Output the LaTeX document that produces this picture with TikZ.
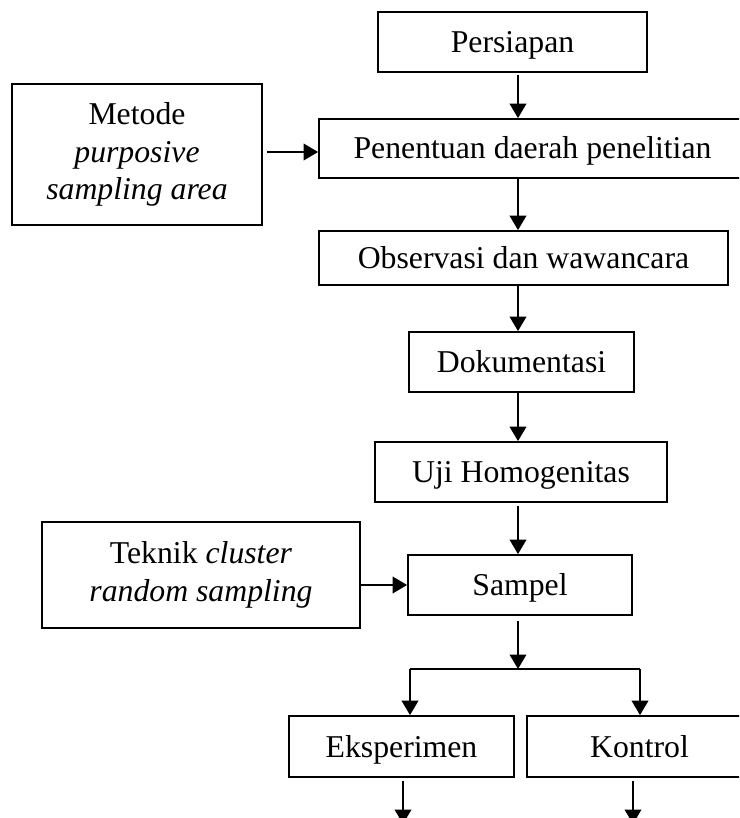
\documentclass[tikz,border=0pt]{standalone}
\usepackage{fontspec}
\setmainfont{Liberation Serif}
\usetikzlibrary{arrows.meta}

\begin{document}
\begin{tikzpicture}[x=0.4pt,y=-0.4pt,
  box/.style={draw,line width=0.7pt,inner sep=0pt,align=center,
    font=\fontsize{12.7}{15}\selectfont},
  single/.style={box,text height=11.2pt,text depth=2.8pt},
  arr/.style={-{Triangle[length=5.8pt,width=6.6pt]},line width=0.9pt}]
\clip (0,0) rectangle (739,818);
\fill[white] (0,0) rectangle (739,818);
% main column
\coordinate (axis) at (518,0);
\node[single,minimum width=107.6pt,minimum height=24pt] (persiapan) at (512.5,42) {Persiapan};
\node[single,minimum width=170.8pt,minimum height=23.6pt] (penentuan) at (532.5,148.5) {Penentuan daerah penelitian};
\node[box,minimum width=100pt,minimum height=56.4pt] (metode) at (137,154.5)
  {Metode\\ \textit{purposive}\\ \textit{sampling area}};
\node[single,minimum width=163.6pt,minimum height=21.6pt] (observasi) at (523.5,258) {Observasi dan wawancara};
\node[single,minimum width=90pt,minimum height=24pt] (dokumentasi) at (521.5,362) {Dokumentasi};
\node[single,minimum width=116.8pt,minimum height=24pt] (uji) at (521,472) {Uji Homogenitas};
\node[box,minimum width=127.4pt,minimum height=42.4pt] (teknik) at (201,575)
  {Teknik \textit{cluster}\\ \textit{random sampling}};
\node[single,minimum width=89.6pt,minimum height=24pt] (sampel) at (520,585) {Sampel};
\node[single,minimum width=90pt,minimum height=24.4pt] (eksperimen) at (401.5,746.5) {Eksperimen};
\node[single,minimum width=90pt,minimum height=24.4pt] (kontrol) at (639.5,746.5) {Kontrol};

% arrows
\draw[arr,shorten <=0.8pt] (persiapan.south -| axis) -- (penentuan.north -| axis);
\draw[arr,shorten <=1.6pt] (metode.east |- 0,152) -- (penentuan.west |- 0,152);
\draw[arr] (penentuan.south -| axis) -- (observasi.north -| axis);
\draw[arr] (observasi.south -| axis) -- (dokumentasi.north -| axis);
\draw[arr] (dokumentasi.south -| axis) -- (uji.north -| axis);
\draw[arr,shorten <=1.2pt] (uji.south -| axis) -- (sampel.north -| axis);
\draw[arr] (teknik.east |- sampel) -- (sampel.west);

% split
\coordinate (split) at (518,669);
\coordinate (sl) at (410,669);
\coordinate (sr) at (640,669);
\draw[arr,shorten <=2pt] (sampel.south -| axis) -- (split);
\draw[line width=0.8pt] (sl) -- (sr);
\draw[arr] (sl) -- (eksperimen.north -| sl);
\draw[arr] (sr) -- (kontrol.north -| sr);

% leaving the page
\coordinate (el) at (403,824);
\coordinate (kl) at (633,824);
\draw[arr,shorten <=1.2pt] (eksperimen.south -| el) -- (el);
\draw[arr,shorten <=1.2pt] (kontrol.south -| kl) -- (kl);
\end{tikzpicture}
\end{document}
